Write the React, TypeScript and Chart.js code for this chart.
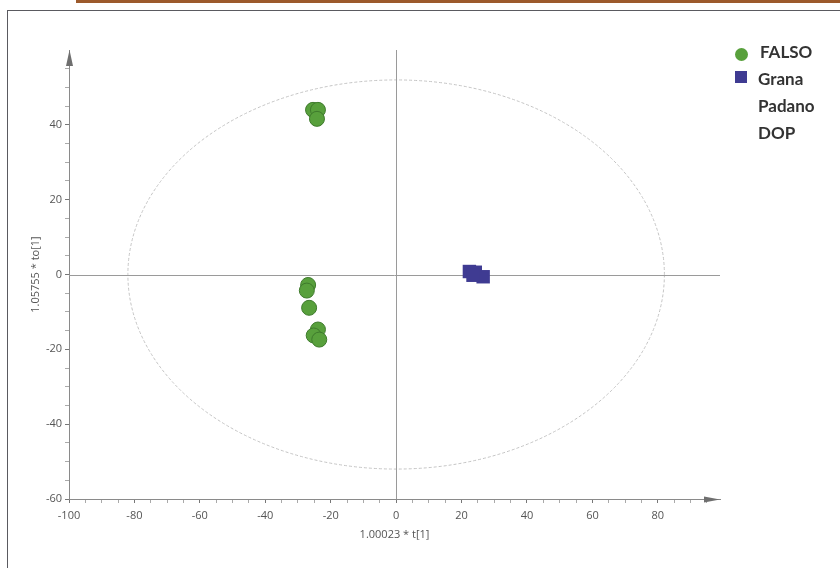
import React, { useEffect, useRef } from 'react';
import { Chart, registerables } from 'chart.js';

Chart.register(...registerables);

// ---- data ----
const falsoX = [-25.4, -23.9, -24.2, -26.9, -27.3, -26.6, -23.9, -25.2, -23.5];
const falsoY = [44.0, 44.0, 41.6, -2.8, -4.3, -8.9, -14.7, -16.3, -17.4];
const granaX = [22.4, 24.2, 26.6, 23.5];
const granaY = [0.8, 0.6, -0.6, -0.2];

const xTickLabels = [-100, -80, -60, -40, -20, 0, 20, 40, 60, 80];
const yTickLabels = [-60, -40, -20, 0, 20, 40];
const xMin = -100;
const xMax = 99;
const yMin = -60;
const yMax = 60;
const minorStep = 5;

const ellipseRadiusX = 82;
const ellipseRadiusY = 52;

const xTitle = '1.00023 * t[1]';
const yTitle = '1.05755 * to[1]';
const seriesNames = ['FALSO', 'Grana Padano DOP'];

const GREEN = '#58a03c';
const GREEN_EDGE = '#3e7a2c';
const BLUE = '#3f3b92';
const AXIS = '#8a8a8a';
const TEXT = '#555555';

const decorPlugin = {
  id: 'decor',
  beforeDatasetsDraw(chart: any) {
    const { ctx, chartArea: a, scales } = chart;
    const x = scales.x;
    const y = scales.y;
    const x0 = x.getPixelForValue(0);
    const y0 = y.getPixelForValue(0);
    ctx.save();
    // Hotelling ellipse
    ctx.strokeStyle = '#c4c4c4';
    ctx.lineWidth = 1;
    ctx.setLineDash([3, 2]);
    ctx.beginPath();
    ctx.ellipse(
      x0,
      y0,
      Math.abs(x.getPixelForValue(ellipseRadiusX) - x0),
      Math.abs(y.getPixelForValue(ellipseRadiusY) - y0),
      0,
      0,
      Math.PI * 2
    );
    ctx.stroke();
    ctx.setLineDash([]);
    // zero lines
    ctx.strokeStyle = '#9a9a9a';
    ctx.lineWidth = 1;
    ctx.beginPath();
    ctx.moveTo(a.left, Math.round(y0) + 0.5);
    ctx.lineTo(a.right, Math.round(y0) + 0.5);
    ctx.moveTo(Math.round(x0) + 0.5, a.top);
    ctx.lineTo(Math.round(x0) + 0.5, a.bottom);
    ctx.stroke();
    // arrows
    ctx.fillStyle = '#6f6f6f';
    const ax = Math.round(a.left) + 0.5;
    ctx.beginPath();
    ctx.moveTo(ax, a.top);
    ctx.lineTo(ax - 3.5, a.top + 16);
    ctx.lineTo(ax + 3.5, a.top + 16);
    ctx.closePath();
    ctx.fill();
    const ay = Math.round(a.bottom) + 0.5;
    ctx.beginPath();
    ctx.moveTo(a.right, ay);
    ctx.lineTo(a.right - 16, ay - 3);
    ctx.lineTo(a.right - 16, ay + 3);
    ctx.closePath();
    ctx.fill();
    ctx.restore();
  },
};

function buildTicks(min: number, max: number) {
  const out: { value: number }[] = [];
  const start = Math.ceil(min / minorStep) * minorStep;
  for (let v = start; v < max - 1; v += minorStep) out.push({ value: v });
  return out;
}

export default function App() {
  const canvasRef = useRef<HTMLCanvasElement | null>(null);

  useEffect(() => {
    const canvas = canvasRef.current;
    if (!canvas) return;
    const font = { family: "'Open Sans', 'DejaVu Sans', sans-serif", size: 11 };
    const chart = new Chart(canvas, {
      type: 'scatter',
      data: {
        datasets: [
          {
            label: seriesNames[0],
            data: falsoX.map((v, i) => ({ x: v, y: falsoY[i] })),
            backgroundColor: GREEN,
            borderColor: GREEN_EDGE,
            borderWidth: 1,
            pointStyle: 'circle',
            pointRadius: 7.5,
          },
          {
            label: seriesNames[1],
            data: granaX.map((v, i) => ({ x: v, y: granaY[i] })),
            backgroundColor: BLUE,
            borderColor: BLUE,
            borderWidth: 0,
            pointStyle: 'rect',
            pointRadius: 9.5,
          },
        ],
      },
      options: {
        animation: false,
        responsive: false,
        maintainAspectRatio: false,
        layout: { padding: { left: 0, right: 120, top: 50, bottom: 0 } },
        plugins: { legend: { display: false }, tooltip: { enabled: false } },
        scales: {
          x: {
            type: 'linear',
            position: 'bottom',
            min: xMin,
            max: xMax,
            afterFit: (s: any) => {
              s.height = 69;
            },
            afterBuildTicks: (s: any) => {
              s.ticks = buildTicks(xMin, xMax);
            },
            ticks: {
              autoSkip: false,
              maxRotation: 0,
              padding: 6,
              color: TEXT,
              font,
              callback: (v: any) => (xTickLabels.includes(Number(v)) ? String(v) : ''),
            },
            grid: {
              display: true,
              drawOnChartArea: false,
              drawTicks: true,
              tickLength: 4,
              color: (c: any) => (c.tick && xTickLabels.includes(c.tick.value) ? '#777' : '#aaa'),
            },
            border: { display: true, color: AXIS, width: 1 },
            title: {
              display: true,
              text: xTitle,
              color: TEXT,
              font,
              padding: { top: 0, bottom: 27 },
            },
          },
          y: {
            type: 'linear',
            position: 'left',
            min: yMin,
            max: yMax,
            afterFit: (s: any) => {
              s.width = 69;
            },
            afterBuildTicks: (s: any) => {
              s.ticks = buildTicks(yMin, yMax);
            },
            ticks: {
              autoSkip: false,
              padding: 3,
              color: TEXT,
              font,
              callback: (v: any) => (yTickLabels.includes(Number(v)) ? String(v) : ''),
            },
            grid: {
              display: true,
              drawOnChartArea: false,
              drawTicks: true,
              tickLength: 4,
              color: (c: any) => (c.tick && yTickLabels.includes(c.tick.value) ? '#777' : '#aaa'),
            },
            border: { display: true, color: AXIS, width: 1 },
            title: {
              display: true,
              text: yTitle,
              color: TEXT,
              font,
              padding: { top: 29, bottom: 0 },
            },
          },
        },
      },
      plugins: [decorPlugin],
    } as any);
    return () => chart.destroy();
  }, []);

  const legendFont = "'Lato', 'Open Sans', sans-serif";
  return (
    <div
      style={{
        position: 'fixed',
        left: 0,
        top: 0,
        width: 840,
        height: 568,
        background: '#ffffff',
        overflow: 'hidden',
      }}
    >
      <div style={{ position: 'absolute', left: 76, top: 0, width: 764, height: 3, background: '#9c5a2c' }} />
      <div
        style={{
          position: 'absolute',
          left: 7,
          top: 10,
          width: 900,
          height: 700,
          border: '1.5px solid #5a5a60',
          boxSizing: 'border-box',
        }}
      />
      <canvas ref={canvasRef} width={840} height={568} style={{ position: 'absolute', left: 0, top: 0, display: 'block' }} />
      <div
        style={{
          position: 'absolute',
          left: 735,
          top: 47.5,
          width: 13,
          height: 13,
          borderRadius: '50%',
          background: GREEN,
        }}
      />
      <div
        style={{
          position: 'absolute',
          left: 760,
          top: 38,
          fontFamily: legendFont,
          fontWeight: 700,
          fontSize: 17,
          lineHeight: '27px',
          color: '#333',
          whiteSpace: 'nowrap',
        }}
      >
        {seriesNames[0]}
      </div>
      <div style={{ position: 'absolute', left: 735, top: 71, width: 12, height: 12, background: BLUE }} />
      <div
        style={{
          position: 'absolute',
          left: 758,
          top: 65,
          width: 72,
          fontFamily: legendFont,
          fontWeight: 700,
          fontSize: 17,
          lineHeight: '27px',
          color: '#333',
        }}
      >
        {seriesNames[1]}
      </div>
    </div>
  );
}
